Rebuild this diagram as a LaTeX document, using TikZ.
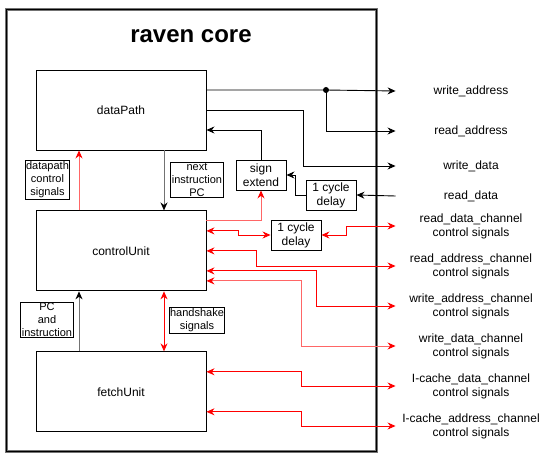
\documentclass[tikz,border=0pt]{standalone}
\usepackage{fontspec}
\setmainfont{Liberation Sans}
\usetikzlibrary{arrows.meta,positioning}

\begin{document}
\begin{tikzpicture}[x=1pt,y=-1pt,>={Stealth[length=8pt,width=7pt]},line width=0.9pt,
  unit node/.style={draw,minimum width=170pt,minimum height=80pt,font=\fontsize{12}{14}\selectfont},
  tag node/.style={draw,align=center,inner sep=1pt,font=\fontsize{11}{13}\selectfont},
  delay node/.style={draw,align=center,minimum width=50pt,minimum height=30pt,inner sep=1pt,font=\fontsize{12}{14}\selectfont},
  port node/.style={align=center,minimum width=150pt,inner sep=0pt,font=\fontsize{12}{14}\selectfont},
  junction/.style={circle,fill,inner sep=0pt,minimum size=6pt},
  sig/.style={draw=red},
  faint sig/.style={draw=red!60,line width=1pt},
  faint/.style={draw=black!55,line width=1pt},
  red tip/.style={-{Stealth[color=red,length=8pt,width=7pt]}},
  black tip/.style={-{Stealth[color=black,length=8pt,width=7pt]}}]
  \useasboundingbox (0,0) rectangle (552,457);

  % outer block
  \draw[black!55,line width=3pt] (6,10) rectangle (376,451);
  \draw[line width=1pt] (6,10) rectangle (376,451);
  \node[font=\fontsize{24}{28}\selectfont\bfseries] (title) at (191,36) {raven core};

  % units
  \node[unit node] (dp) at (121,110) {dataPath};
  \node[unit node] (cu) [below=60pt of dp] {controlUnit};
  \node[unit node] (fu) [below=60pt of cu] {fetchUnit};

  % small labels
  \node[tag node] (dpcs) at (47.5,180) {datapath\\control\\signals};
  \node[tag node] (nipc) at (197,180) {next\\instruction\\PC};
  \node[tag node] (pci)  at (47,320) {PC\\and\\instruction};
  \node[tag node] (hs)   at (197,320.5) {handshake\\signals};
  \node[delay node] (se) at (261,175) {sign\\extend};
  \node[delay node] (d1) at (331,195) {1 cycle\\delay};
  \node[delay node] (d2) at (296,235) {1 cycle\\delay};
  \node[junction] (j) at (326,90) {};

  % ports
  \node[port node] (wa)   at (471,91)  {write\_address};
  \node[port node] (ra)   at (471,131) {read\_address};
  \node[port node] (wd)   at (471,166) {write\_data};
  \node[port node] (rd)   at (471,196) {read\_data};
  \node[port node] (rdc)  at (471,226) {read\_data\_channel\\control signals};
  \node[port node] (radc) at (471,266) {read\_address\_channel\\control signals};
  \node[port node] (wadc) at (471,306) {write\_address\_channel\\control signals};
  \node[port node] (wdc)  at (471,346) {write\_data\_channel\\control signals};
  \node[port node] (icd)  at (471,386) {I-cache\_data\_channel\\control signals};
  \node[port node] (ica)  at (471,426) {I-cache\_address\_channel\\control signals};

  % data path
  \draw[->] ([yshift=20pt]dp.east) -- (j.center) -- (wa.west);
  \draw[->] (j.center) |- (ra.west);
  \draw[->] (dp.east) -- ++(97,0) |- (wd.west);
  \draw[->] (rd.west) -- (d1.east);
  \draw[->] (d1.west) -- ++(-10,0) |- (se.east);
  \draw[->] (se.north) |- ([yshift=-20pt]dp.east);

  % between units
  \draw[faint sig,red tip] ([xshift=-42pt]cu.north) -- ([xshift=-42pt]dp.south);
  \draw[faint,black tip] ([xshift=43pt]dp.south) -- ([xshift=43pt]cu.north);
  \draw[faint,black tip] ([xshift=-42pt]fu.north) -- ([xshift=-42pt]cu.south);
  \draw[sig,<->] ([xshift=43pt]cu.south) -- ([xshift=43pt]fu.north);

  % control signals
  \draw[faint sig,red tip] ([yshift=30pt]cu.east) -| (se.south);
  \draw[sig,<->] ([yshift=20pt]cu.east) -- ++(32,0) |- (d2.west);
  \draw[sig,<->] (d2.east) -- ++(25,0) |- (rdc.west);
  \draw[sig,<->] (cu.east) -- ++(50,0) |- (radc.west);
  \draw[sig,<->] ([yshift=-20pt]cu.east) -- ++(110,0) |- (wadc.west);
  \draw[faint sig,{Stealth[color=red,length=8pt,width=7pt]}-{Stealth[color=red,length=8pt,width=7pt]}] ([yshift=-30pt]cu.east) -- ++(95,0) |- (wdc.west);
  \draw[sig,<->] ([yshift=20pt]fu.east) -- ++(95,0) |- (icd.west);
  \draw[sig,<->] ([yshift=-20pt]fu.east) -- ++(95,0) |- (ica.west);
\end{tikzpicture}
\end{document}
